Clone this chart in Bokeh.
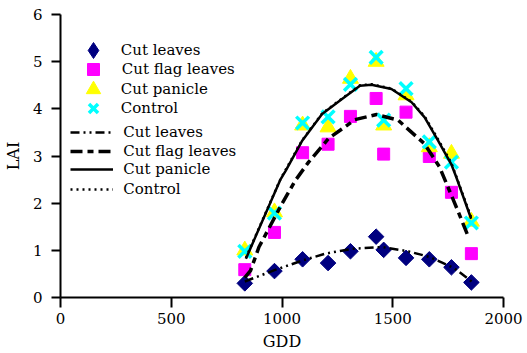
import math
from bokeh.plotting import figure
from bokeh.models import Range1d, Legend, LegendItem, FixedTicker
from bokeh.embed import file_html
from bokeh.resources import INLINE

# Observed points
gdd = [832, 966, 1093, 1208, 1309, 1425, 1459, 1560, 1665, 1765, 1855]
cut_leaves = [0.30, 0.56, 0.81, 0.73, 0.98, 1.29, 1.01, 0.84, 0.81, 0.64, 0.32]
cut_flag = [0.59, 1.38, 3.07, 3.25, 3.84, 4.22, 3.04, 3.93, 2.99, 2.23, 0.93]
cut_panicle = [1.00, 1.81, 3.65, 3.61, 4.64, 5.00, 3.65, 4.29, 3.19, 3.05, 1.61]
control = [0.98, 1.79, 3.70, 3.83, 4.52, 5.09, 3.76, 4.43, 3.30, 2.87, 1.58]

# Fitted curves
fit_leaves_x = [832, 972, 1096, 1196, 1313, 1451, 1569, 1666, 1778, 1861]
fit_leaves_y = [0.34, 0.59, 0.79, 0.93, 1.03, 1.07, 0.98, 0.86, 0.62, 0.32]
fit_flag_x = [832, 858, 896, 1000, 1060, 1120, 1210, 1329, 1427, 1524, 1643, 1711, 1793, 1840]
fit_flag_y = [0.42, 0.57, 1.07, 1.99, 2.48, 2.87, 3.37, 3.77, 3.88, 3.76, 3.26, 2.77, 1.85, 1.30]
fit_pan_x = [837, 994, 1017, 1092, 1181, 1271, 1352, 1404, 1494, 1585, 1644, 1704, 1764, 1787, 1854]
fit_pan_y = [0.82, 2.51, 2.69, 3.33, 3.89, 4.21, 4.49, 4.51, 4.42, 4.14, 3.82, 3.33, 2.83, 2.55, 1.67]
fit_ctrl_x = [837, 994, 1092, 1181, 1271, 1352, 1404, 1494, 1585, 1644, 1704, 1764, 1854]
fit_ctrl_y = [0.84, 2.52, 3.34, 3.90, 4.22, 4.50, 4.52, 4.43, 4.15, 3.84, 3.36, 2.86, 1.70]

x_ticks = [0, 500, 1000, 1500, 2000]
y_ticks = [0, 1, 2, 3, 4, 5, 6]

FONT = "DejaVu Serif"
FS = "15px"

p = figure(width=527, height=353, output_backend="svg", toolbar_location=None,
           x_range=Range1d(0, 2000), y_range=Range1d(0, 6),
           min_border_left=57, min_border_right=24, min_border_top=14, min_border_bottom=56)
p.outline_line_color = None
p.grid.visible = False
p.background_fill_color = "white"

for ax in (p.xaxis, p.yaxis):
    ax.axis_line_width = 2
    ax.major_tick_line_width = 2
    ax.minor_tick_line_color = None
    ax.major_tick_in = 0
    ax.major_label_text_font = FONT
    ax.major_label_text_font_size = FS
    ax.major_label_text_color = "black"
    ax.axis_label_text_font = FONT
    ax.axis_label_text_font_size = "16px"
    ax.axis_label_text_font_style = "normal"
    ax.axis_label_text_color = "black"
p.xaxis.ticker = FixedTicker(ticks=x_ticks)
p.yaxis.ticker = FixedTicker(ticks=y_ticks)
p.xaxis.major_tick_out = 10
p.yaxis.major_tick_out = 9
p.xaxis.major_label_standoff = 5
p.yaxis.major_label_standoff = 9
p.xaxis.axis_label = "GDD"
p.yaxis.axis_label = "LAI"
p.xaxis.axis_label_standoff = 5
p.yaxis.axis_label_standoff = 7

r_d = p.scatter(gdd, cut_leaves, marker="square", angle=math.pi / 4, size=11, color="#000080")
r_s = p.scatter(gdd, cut_flag, marker="square", size=12, color="#FF00FF")
r_t = p.scatter(gdd, cut_panicle, marker="triangle", size=16, color="#FFFF00")
r_x = p.scatter(gdd, control, marker="x", size=18, line_color="#00FFFF", line_width=3.5)
# hidden twin of the diamond series, used only for the legend symbol
r_d_leg = p.scatter(gdd, cut_leaves, marker="diamond", size=16, color="#000080", visible=False)

l_c = p.line(fit_ctrl_x, fit_ctrl_y, line_color="black", line_width=2.5, line_dash="2 4")
l_p = p.line(fit_pan_x, fit_pan_y, line_color="black", line_width=2.5)
l_f = p.line(fit_flag_x, fit_flag_y, line_color="black", line_width=3.5, line_dash="12 5 6 5")
l_l = p.line(fit_leaves_x, fit_leaves_y, line_color="black", line_width=2.5, line_dash="9 4 2 4 2 4")

FRAME_LEFT = 56.7
FRAME_BOTTOM = 296.7

def make_leg(label, r, x0, yc, gw, gh, label_x):
    leg = Legend(items=[LegendItem(label=label, renderers=[r])],
                 location=(x0 - FRAME_LEFT, FRAME_BOTTOM - (yc + gh / 2)))
    leg.background_fill_alpha = 0
    leg.border_line_color = None
    leg.inactive_fill_alpha = 0
    leg.padding = 0
    leg.margin = 0
    leg.spacing = 0
    leg.label_text_font = FONT
    leg.label_text_font_size = FS
    leg.label_text_color = "black"
    leg.label_height = gh
    leg.glyph_height = gh
    leg.glyph_width = gw
    leg.label_standoff = int(round(label_x - (x0 + gw)))
    p.add_layout(leg, "center")

# marker legend: (label, renderer, row centre, glyph box)
marker_items = [("Cut leaves", r_d_leg, 50, 40), ("Cut flag leaves", r_s, 69, 30),
                ("Cut panicle", r_t, 89, 36), ("Control", r_x, 108, 32)]
for lab, r, yc, box in marker_items:
    make_leg(lab, r, 89.5 - box / 2, yc, box, box, 118)

line_items = [("Cut leaves", l_l, 132), ("Cut flag leaves", l_f, 151),
              ("Cut panicle", l_p, 169), ("Control", l_c, 189)]
for lab, r, yc in line_items:
    make_leg(lab, r, 67, yc, 43, 30, 120)

open("out.html", "w").write(file_html(p, INLINE))
